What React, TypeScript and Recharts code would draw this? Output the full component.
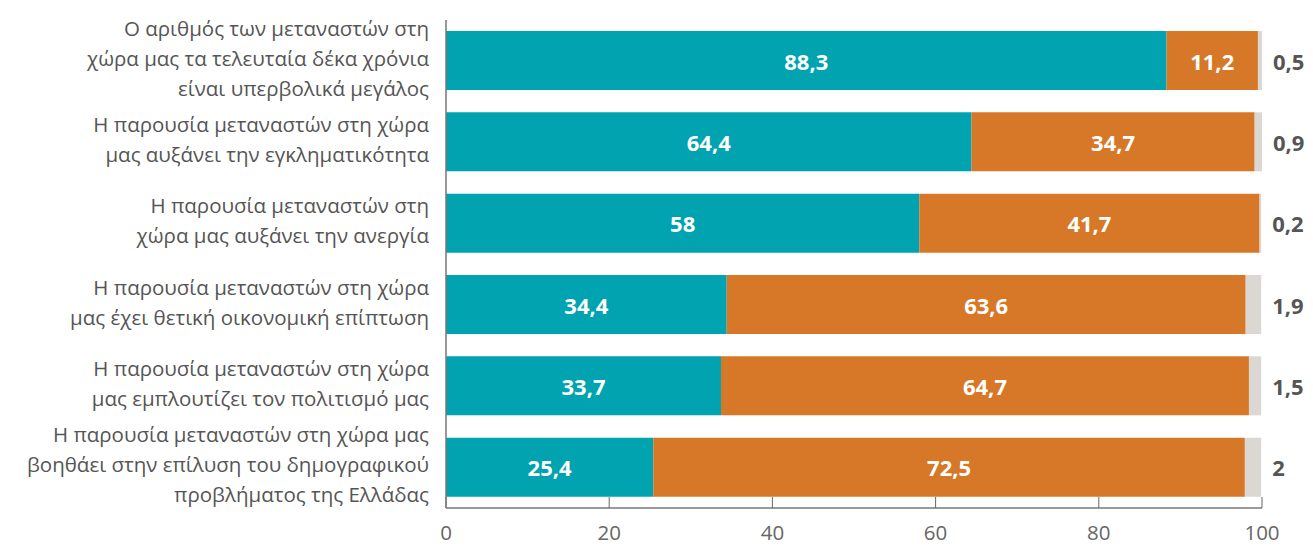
import React from "react";
import { BarChart, Bar, XAxis, YAxis, LabelList } from "recharts";

const categories: string[][] = [
  ["Ο αριθμός των μεταναστών στη", "χώρα μας τα τελευταία δέκα χρόνια", "είναι υπερβολικά μεγάλος"],
  ["Η παρουσία μεταναστών στη χώρα", "μας αυξάνει την εγκληματικότητα"],
  ["Η παρουσία μεταναστών στη", "χώρα μας αυξάνει την ανεργία"],
  ["Η παρουσία μεταναστών στη χώρα", "μας έχει θετική οικονομική επίπτωση"],
  ["Η παρουσία μεταναστών στη χώρα", "μας εμπλουτίζει τον πολιτισμό μας"],
  ["Η παρουσία μεταναστών στη χώρα μας", "βοηθάει στην επίλυση του δημογραφικού", "προβλήματος της Ελλάδας"],
];
const agree = [88.3, 64.4, 58, 34.4, 33.7, 25.4];
const disagree = [11.2, 34.7, 41.7, 63.6, 64.7, 72.5];
const noAnswer = [0.5, 0.9, 0.2, 1.9, 1.5, 2];
const xTicks = [0, 20, 40, 60, 80, 100];

const data = categories.map((c, i) => ({
  name: String(i),
  agree: agree[i],
  disagree: disagree[i],
  na: noAnswer[i],
}));

const FONT = "'Open Sans', Lato, sans-serif";
const fmt = (v: number) => String(v).replace(".", ",");

const CatTick = (props: any) => {
  const { x, y, payload } = props;
  const lines = categories[Number(payload.value)];
  const lh = 30;
  const start = y - ((lines.length - 1) * lh) / 2 - 3;
  return (
    <text x={x} y={start} textAnchor="end" fill="#555" fontSize={20.5} fontFamily={FONT} dominantBaseline="central">
      {lines.map((l, i) => (
        <tspan key={i} x={x} y={start + i * lh} dominantBaseline="central">
          {l}
        </tspan>
      ))}
    </text>
  );
};

const InsideLabel = (props: any) => {
  const { x, y, width, height, value } = props;
  return (
    <text x={x + width / 2} y={y + height / 2} textAnchor="middle" dominantBaseline="central" fill="#fff" fontSize={22} fontWeight={700} fontFamily={FONT}>
      {fmt(value)}
    </text>
  );
};

const OutsideLabel = (props: any) => {
  const { x, y, width, height, value } = props;
  return (
    <text x={x + width + 11} y={y + height / 2} textAnchor="start" dominantBaseline="central" fill="#555" fontSize={22} fontWeight={700} fontFamily={FONT}>
      {fmt(value)}
    </text>
  );
};

export default function App() {
  return (
    <div style={{ position: "absolute", left: 0, top: 0, background: "#fff" }}>
      <BarChart
        width={1313}
        height={550}
        data={data}
        layout="vertical"
        margin={{ top: 20, right: 51, left: 0, bottom: 0 }}
        barSize={59}
      >
        <XAxis
          type="number"
          domain={[0, 100]}
          ticks={xTicks}
          tick={{ fill: "#666", fontSize: 20.5, fontFamily: FONT }}
          tickSize={11}
          tickLine={{ stroke: "#666", transform: "translate(0,-11)" }}
          axisLine={{ stroke: "#777", strokeWidth: 1.5 }}
          tickMargin={6}
          height={42}
        />
        <YAxis
          type="category"
          dataKey="name"
          width={446}
          tick={<CatTick />}
          tickLine={false}
          axisLine={{ stroke: "#777", strokeWidth: 1.5 }}
          tickMargin={11}
        />
        <Bar dataKey="agree" stackId="a" fill="#00A3AF" isAnimationActive={false}>
          <LabelList dataKey="agree" content={<InsideLabel />} />
        </Bar>
        <Bar dataKey="disagree" stackId="a" fill="#D67828" isAnimationActive={false}>
          <LabelList dataKey="disagree" content={<InsideLabel />} />
        </Bar>
        <Bar dataKey="na" stackId="a" fill="#DBD7D3" isAnimationActive={false}>
          <LabelList dataKey="na" content={<OutsideLabel />} />
        </Bar>
      </BarChart>
    </div>
  );
}
